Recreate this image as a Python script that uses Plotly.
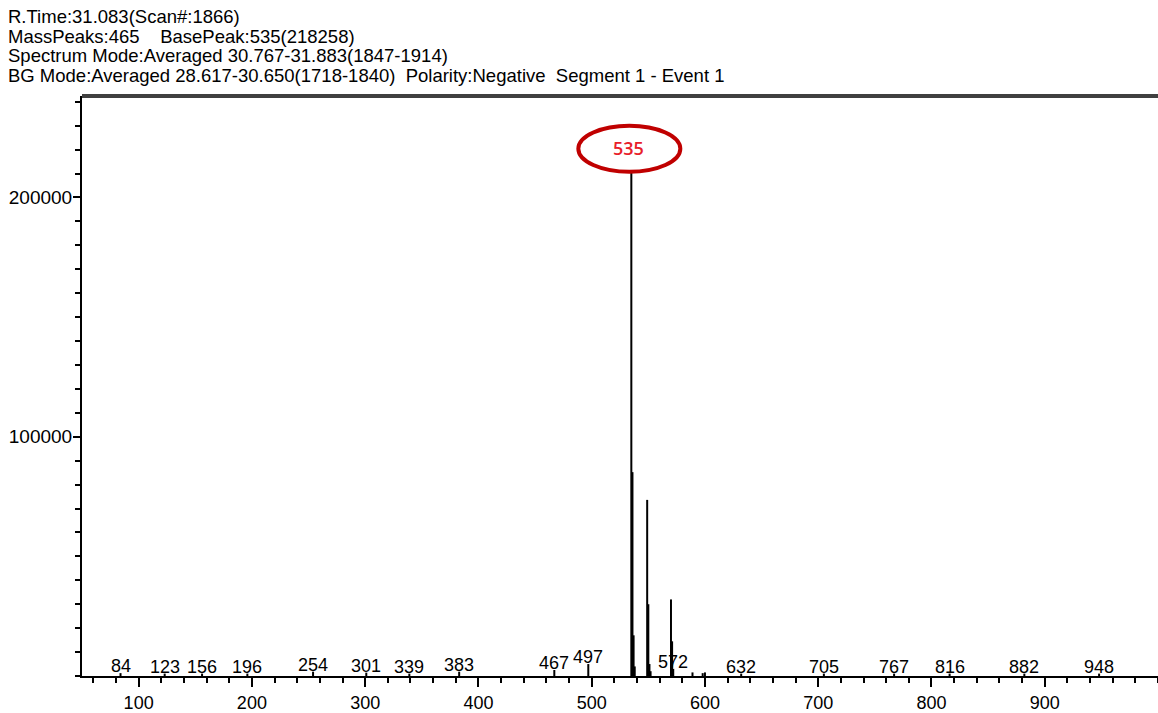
import plotly.graph_objects as go

# ---- data ----
header_lines = [
    "R.Time:31.083(Scan#:1866)",
    "MassPeaks:465    BasePeak:535(218258)",
    "Spectrum Mode:Averaged 30.767-31.883(1847-1914)",
    "BG Mode:Averaged 28.617-30.650(1718-1840)  Polarity:Negative  Segment 1 - Event 1",
]
mz = [84, 123, 156, 196, 254, 301, 339, 383, 467, 497,
      535, 536, 537, 538, 549, 550, 551, 552, 570, 571, 572,
      589, 598, 600, 632, 705, 767, 816, 882, 948]
intensity = [1200, 1000, 1000, 1000, 1800, 1400, 1000, 1800, 2500, 5000,
             218258, 85200, 17000, 4000, 73600, 30000, 5000, 2000, 32000, 14500, 3000,
             1500, 1200, 1500, 1000, 1000, 1000, 1000, 1000, 1000]
labeled_mz = [84, 123, 156, 196, 254, 301, 339, 383, 467, 497, 572,
              632, 705, 767, 816, 882, 948]
base_peak = 535
x_range = [50, 1000]
y_range = [0, 242400]
x_ticks = [100, 200, 300, 400, 500, 600, 700, 800, 900]
y_ticks = [100000, 200000]

FONT = "Liberation Sans, Arial"

# ---- build stick spectrum ----
xs, ys = [], []
for m, h in zip(mz, intensity):
    xs += [m, m, None]
    ys += [0, h, None]

fig = go.Figure()
fig.add_trace(go.Scatter(x=xs, y=ys, mode="lines",
                         line=dict(color="black", width=2),
                         hoverinfo="skip", showlegend=False))

lookup = dict(zip(mz, intensity))
for m in labeled_mz:
    fig.add_annotation(x=m, y=lookup[m], text=str(m), showarrow=False,
                       xref="x", yref="y", yanchor="bottom", yshift=-5,
                       font=dict(family=FONT, size=18, color="black"))

# base peak highlight
fig.add_shape(type="circle", xref="x", yref="y", xsizemode="pixel", ysizemode="pixel",
              xanchor=base_peak, yanchor=lookup[base_peak],
              x0=-53, x1=49, y0=-18, y1=28,
              line=dict(color="#c00000", width=4), fillcolor="white", layer="above")
fig.add_annotation(x=base_peak, y=lookup[base_peak], text=str(base_peak), showarrow=False,
                   xref="x", yref="y", xshift=-3, yshift=6,
                   font=dict(family="Open Sans", size=18, color="#e8202a", weight=600))

# header
shifts = [80, 60, 41, 21]
for t, s in zip(header_lines, shifts):
    fig.add_annotation(x=0, y=1, xref="paper", yref="paper", text=t, showarrow=False,
                       xanchor="left", yanchor="middle", xshift=-76, yshift=s,
                       font=dict(family=FONT, size=18.5, color="black"))

# top border
fig.add_shape(type="line", xref="paper", yref="paper", x0=0, x1=1, y0=1, y1=1,
              line=dict(color="#404040", width=4))

fig.update_xaxes(range=x_range, tickvals=x_ticks, ticks="outside", ticklen=9, tickwidth=2,
                 tickcolor="black", showline=True, linecolor="black", linewidth=2,
                 showgrid=False, zeroline=False,
                 minor=dict(dtick=20, ticks="outside", ticklen=5, tickwidth=2, tickcolor="black", tick0=0),
                 tickfont=dict(family=FONT, size=18, color="black"))
fig.update_yaxes(range=y_range, tickvals=y_ticks, ticktext=[str(v) for v in y_ticks],
                 ticks="outside", ticklen=7, tickwidth=2, ticklabelstandoff=-3,
                 tickcolor="black", showline=True, linecolor="black", linewidth=2,
                 showgrid=False, zeroline=False,
                 minor=dict(dtick=10000, ticks="outside", ticklen=5, tickwidth=2, tickcolor="black", tick0=0),
                 tickfont=dict(family=FONT, size=19, color="black"))

fig.update_layout(width=1158, height=713, margin=dict(l=82, r=0, t=96, b=34),
                  plot_bgcolor="white", paper_bgcolor="white")
fig.write_html("out.html")
